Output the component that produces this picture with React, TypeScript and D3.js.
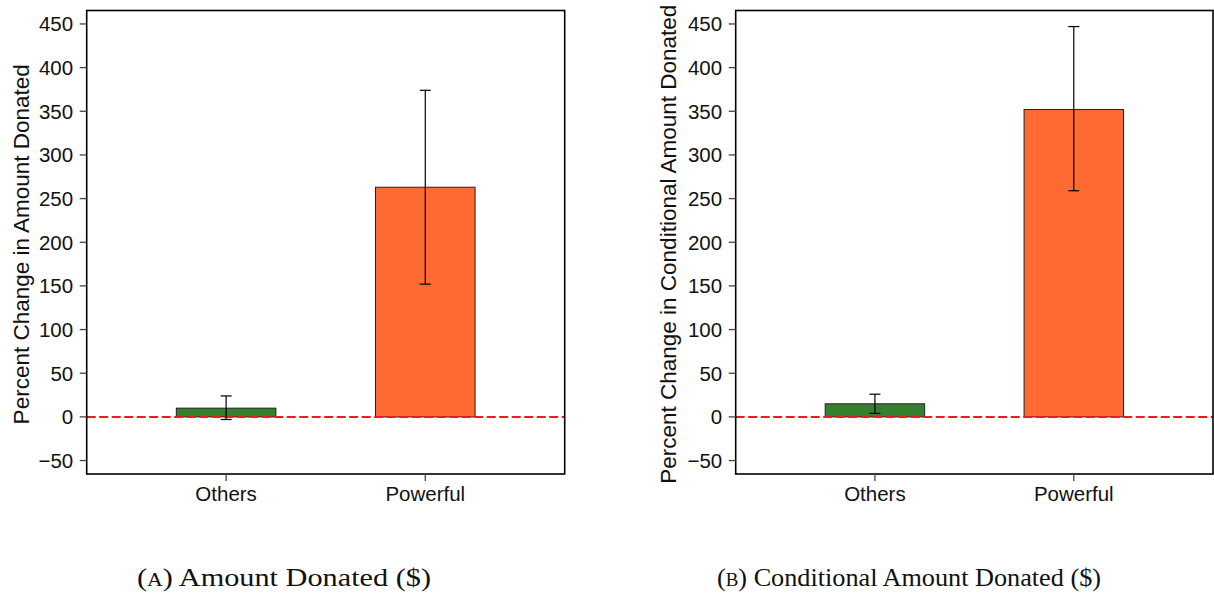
import React from "react";
import * as d3 from "d3";

// values (percent change, with CI bounds)
const categories = ["Others", "Powerful"];
const amountMean = [10, 263];
const amountLow = [-3, 152];
const amountHigh = [24, 374];
const condMean = [15, 352];
const condLow = [4, 259];
const condHigh = [26, 447];
const yTicks = [-50, 0, 50, 100, 150, 200, 250, 300, 350, 400, 450];
const barColors = ["#367f2e", "#ff6a33"];

const W = 1214;
const H = 610;
const top = 10.5;
const bottom = 474;
const font = "'Liberation Sans', Arial, Helvetica, sans-serif";

const y = d3.scaleLinear().domain([-65.4, 465.4]).range([bottom, top]);

const Panel = ({ left, right, label, labelX, mean, low, high }) => {
    const x = d3.scalePoint().domain(categories).range([left, right]).padding(0.7);
    const barW = x.step() * 0.5;
    const capW = 11;
    return (
        <g>
            {/* bars */}
            {categories.map((c, i) => (
                <rect
                    key={c}
                    x={x(c) - barW / 2}
                    y={y(Math.max(mean[i], 0))}
                    width={barW}
                    height={Math.abs(y(mean[i]) - y(0))}
                    fill={barColors[i]}
                    stroke="#222"
                    strokeWidth={1}
                />
            ))}
            {/* zero line */}
            <line x1={left} x2={right} y1={y(0)} y2={y(0)} stroke="#f2191c" strokeWidth={2} strokeDasharray="9,3.5" />
            {/* error bars */}
            {categories.map((c, i) => (
                <g key={c} stroke="#000" strokeWidth={1.2}>
                    <line x1={x(c)} x2={x(c)} y1={y(low[i])} y2={y(high[i])} />
                    <line x1={x(c) - capW / 2} x2={x(c) + capW / 2} y1={y(high[i])} y2={y(high[i])} />
                    <line x1={x(c) - capW / 2} x2={x(c) + capW / 2} y1={y(low[i])} y2={y(low[i])} />
                </g>
            ))}
            {/* frame */}
            <rect x={left} y={top} width={right - left} height={bottom - top} fill="none" stroke="#000" strokeWidth={1.6} />
            {/* y axis */}
            {yTicks.map(t => (
                <g key={t}>
                    <line x1={left - 7} x2={left} y1={y(t)} y2={y(t)} stroke="#444" strokeWidth={1.3} />
                    <text x={left - 13.5} y={y(t)} dy="0.36em" textAnchor="end" fontSize={20.5} fontFamily={font} fill="#111">
                        {t < 0 ? "\u2212" + Math.abs(t) : t}
                    </text>
                </g>
            ))}
            {/* x axis */}
            {categories.map(c => (
                <g key={c}>
                    <line x1={x(c)} x2={x(c)} y1={bottom} y2={bottom + 7} stroke="#444" strokeWidth={1.3} />
                    <text x={x(c)} y={501} textAnchor="middle" fontSize={20.5} fontFamily={font} fill="#111">{c}</text>
                </g>
            ))}
            <text
                transform={`translate(${labelX},${(top + bottom) / 2 + 2}) rotate(-90)`}
                textAnchor="middle"
                fontSize={22.5}
                fontFamily={font}
                fill="#111"
            >
                {label}
            </text>
        </g>
    );
};

const Caption = ({ cx, len, letter, text }) => (
    <text
        x={cx}
        y={586}
        textAnchor="middle"
        fontFamily="'Liberation Serif', 'DejaVu Serif', serif"
        fontSize={25}
        fill="#111"
        textLength={len}
        lengthAdjust="spacingAndGlyphs"
    >
        (<tspan fontSize={18}>{letter}</tspan>) {text}
    </text>
);

export default function App() {
    return (
        <svg width={W} height={H} style={{ position: "absolute", left: 0, top: 0, background: "#fff" }}>
            <Panel
                left={86.7}
                right={564.7}
                label="Percent Change in Amount Donated"
                labelX={29}
                mean={amountMean}
                low={amountLow}
                high={amountHigh}
            />
            <Panel
                left={735.7}
                right={1213}
                label="Percent Change in Conditional Amount Donated"
                labelX={676}
                mean={condMean}
                low={condLow}
                high={condHigh}
            />
            <Caption cx={284} len={294} letter="A" text="Amount Donated ($)" />
            <Caption cx={909} len={384} letter="B" text="Conditional Amount Donated ($)" />
        </svg>
    );
}
